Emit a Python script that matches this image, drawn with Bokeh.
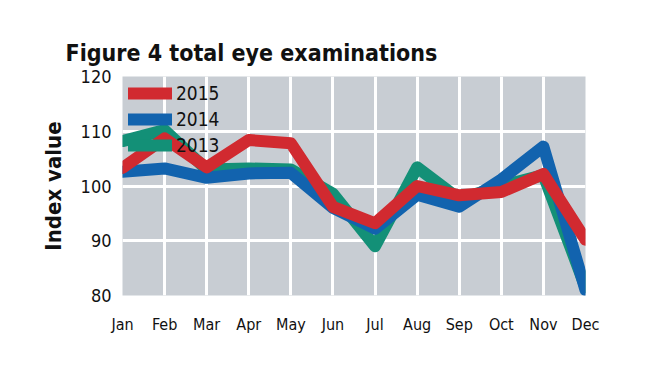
from bokeh.plotting import figure
from bokeh.models import Range1d, FixedTicker, Legend, LegendItem
from bokeh.embed import file_html
from bokeh.resources import INLINE

months = ["Jan", "Feb", "Mar", "Apr", "May", "Jun", "Jul", "Aug", "Sep", "Oct", "Nov", "Dec"]
y2015 = [103.3, 108.7, 103.4, 108.4, 107.8, 96.2, 93.2, 100.0, 98.3, 98.9, 102.2, 90.2]
y2014 = [102.6, 103.2, 101.5, 102.3, 102.4, 96.0, 92.2, 98.4, 96.2, 101.2, 107.2, 81.0]
y2013 = [108.2, 110.2, 103.0, 103.2, 103.0, 98.6, 89.0, 103.4, 97.6, 100.0, 102.0, 81.5]
y_ticks = [80, 90, 100, 110, 120]

xs = list(range(len(months)))

FONT = "DejaVu Sans Condensed"

p = figure(width=634, height=350, output_backend="svg", toolbar_location=None,
           x_range=Range1d(0, 11), y_range=Range1d(80, 120),
           min_border_left=122, min_border_right=49, min_border_top=76, min_border_bottom=55)

p.title.text = "Figure 4 total eye examinations"
p.title.text_font = FONT
p.title.text_font_style = "bold"
p.title.text_font_size = "23px"
p.title.text_color = "#111111"
p.title.offset = -57
p.title.standoff = 22

p.background_fill_color = "#c8cdd3"
p.border_fill_color = "white"
p.outline_line_color = None

p.xgrid.ticker = FixedTicker(ticks=xs)
p.ygrid.ticker = FixedTicker(ticks=y_ticks)
p.xgrid.grid_line_color = "white"
p.ygrid.grid_line_color = "white"
p.xgrid.grid_line_width = 3
p.ygrid.grid_line_width = 3

p.xaxis.ticker = FixedTicker(ticks=xs)
p.xaxis.major_label_overrides = {i: m for i, m in enumerate(months)}
p.yaxis.ticker = FixedTicker(ticks=y_ticks)
for ax in (p.xaxis[0], p.yaxis[0]):
    ax.axis_line_color = None
    ax.major_tick_line_color = None
    ax.minor_tick_line_color = None
    ax.major_label_text_font = FONT
    ax.major_label_text_color = "#111111"
p.xaxis.major_label_text_font_size = "16px"
p.xaxis.major_label_standoff = 13
p.yaxis.major_label_text_font_size = "18px"
p.yaxis.major_label_standoff = 5
p.yaxis.axis_label = "Index value"
p.yaxis.axis_label_text_font = FONT
p.yaxis.axis_label_text_font_style = "bold"
p.yaxis.axis_label_text_font_size = "22px"
p.yaxis.axis_label_text_color = "#111111"
p.yaxis.axis_label_standoff = 12

g13 = p.line(xs, y2013, line_color="#139077", line_width=12, line_cap="round", line_join="round")
g14 = p.line(xs, y2014, line_color="#1263ae", line_width=12, line_cap="round", line_join="round")
g15 = p.line(xs, y2015, line_color="#d12a30", line_width=12, line_cap="round", line_join="round")

legend = Legend(items=[LegendItem(label="2015", renderers=[g15]),
                       LegendItem(label="2014", renderers=[g14]),
                       LegendItem(label="2013", renderers=[g13])],
                location="top_left", background_fill_alpha=0, border_line_color=None,
                glyph_width=44, glyph_height=22, spacing=4, padding=0, margin=6,
                label_text_font=FONT, label_text_font_size="19px", label_standoff=4,
                label_text_color="#111111")
p.add_layout(legend)

open("out.html", "w").write(file_html(p, INLINE))
